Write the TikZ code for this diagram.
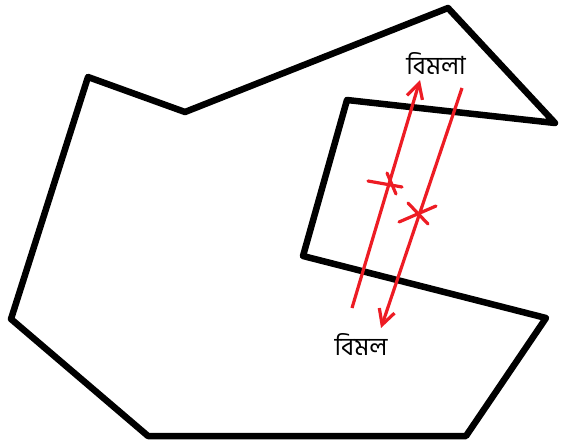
\documentclass[tikz,border=0pt]{standalone}
\usepackage{fontspec}
\newfontfamily\bengfont[Script=Bengali]{Hind Siliguri}
\usetikzlibrary{arrows.meta}
\definecolor{paintred}{RGB}{237,28,36}
\begin{document}
\begin{tikzpicture}[x=1pt,y=-1pt,
  wall/.style={line width=6.5pt,line join=round,line cap=round,black},
  ray/.style={line width=3.2pt,draw=paintred},
  tick/.style={line width=3.2pt,draw=paintred,line cap=round},
  lbl/.style={font=\bengfont\fontsize{25}{28}\selectfont,inner sep=0pt}]
\useasboundingbox (0,0) rectangle (561,445);
\coordinate (p1) at (88,77);
\coordinate (p2) at (185,112);
\coordinate (p3) at (448,8);
\coordinate (p4) at (555,123);
\coordinate (p5) at (347,100);
\coordinate (p6) at (303,256);
\coordinate (p7) at (546,318);
\coordinate (p8) at (466,436);
\coordinate (p9) at (148,436);
\coordinate (p10) at (11,319);
\draw[wall] (p1) -- (p2) -- (p3) -- (p4) -- (p5) -- (p6) -- (p7) -- (p8) -- (p9) -- (p10) -- cycle;
\node[lbl] (top) at (436,63) {বিমলা};
\node[lbl] (bot) at (361,344) {বিমল};
\coordinate (a1) at (352,308);
\coordinate (a2) at (420,80);
\coordinate (b1) at (462,88);
\coordinate (b2) at (381,328);
\draw[ray,-{Straight Barb[length=15pt,width=16pt,line width=3.2pt]}] (a1) -- (a2);
\draw[ray,-{Straight Barb[length=15pt,width=16pt,line width=3.2pt]}] (b1) -- (b2);
\draw[tick] (368,181) -- (402,187);
\draw[tick] (387,173) -- (396,194);
\draw[tick] (399,222) -- (436,206);
\draw[tick] (408,203) -- (428,224);
\end{tikzpicture}
\end{document}
